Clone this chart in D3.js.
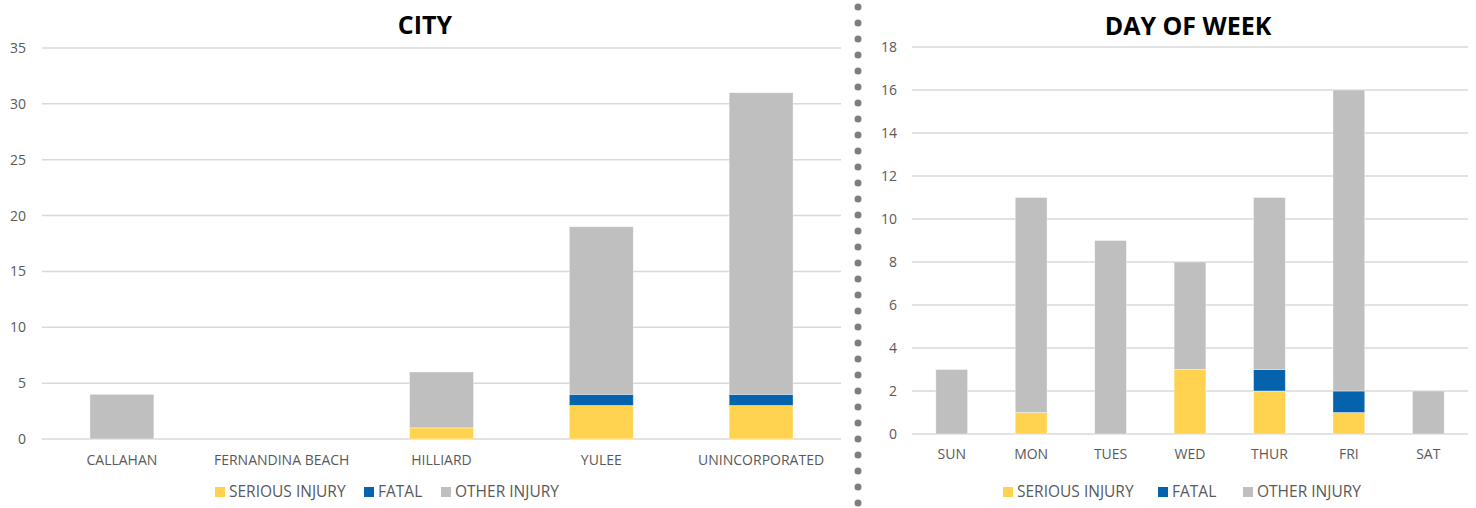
<!DOCTYPE html>
<html><head><meta charset="utf-8">
<script src="https://cdn.jsdelivr.net/npm/d3@7"></script>
<style>body{margin:0;background:#fff}svg{display:block}text{font-family:"Open Sans",sans-serif}</style>
</head><body><svg id="c" width="1476" height="508"></svg>
<script>
const seriesNames = ["SERIOUS INJURY","FATAL","OTHER INJURY"];
const seriesColors = ["#FFD34F","#0563AD","#BFBFBF"];

const cityCategories = ["CALLAHAN","FERNANDINA BEACH","HILLIARD","YULEE","UNINCORPORATED"];
const citySerious = [0,0,1,3,3];
const cityFatal = [0,0,0,1,1];
const cityOther = [4,0,5,15,27];
const cityTicks = [0,5,10,15,20,25,30,35];

const dayCategories = ["SUN","MON","TUES","WED","THUR","FRI","SAT"];
const daySerious = [0,1,0,3,2,1,0];
const dayFatal = [0,0,0,0,1,1,0];
const dayOther = [3,10,9,5,8,14,2];
const dayTicks = [0,2,4,6,8,10,12,14,16,18];

const svg = d3.select("#c");

function drawChart(cfg){
  const g = svg.append("g");
  const x = d3.scaleBand().domain(cfg.cats).range([cfg.x0,cfg.x1]).paddingInner(0.6).paddingOuter(0.3);
  const y = d3.scaleLinear().domain([0,d3.max(cfg.ticks)]).range([cfg.y0,cfg.y1]);
  g.selectAll("line.grid").data(cfg.ticks).join("line")
    .attr("x1",cfg.x0).attr("x2",cfg.x1)
    .attr("y1",d=>y(d)).attr("y2",d=>y(d))
    .attr("stroke","#D9D9D9").attr("stroke-width",1.5);
  const yAxis = d3.axisLeft(y).tickValues(cfg.ticks).tickSize(0).tickPadding(0);
  const ya = g.append("g").attr("transform",`translate(${cfg.ylabX},0)`).call(yAxis);
  ya.select(".domain").remove();
  ya.selectAll("text").attr("fill","#595959").style("font-size","14px").style("font-family","'Open Sans',sans-serif");
  const rows = cfg.cats.map((c,i)=>({cat:c, s0:cfg.s[0][i], s1:cfg.s[1][i], s2:cfg.s[2][i]}));
  const stack = d3.stack().keys(["s0","s1","s2"])(rows);
  stack.forEach((layer,li)=>{
    g.selectAll(null).data(layer.filter(d=>d[1]-d[0]>0)).join("rect")
      .attr("x",d=>x(d.data.cat)).attr("width",x.bandwidth())
      .attr("y",d=>y(d[1])).attr("height",d=>y(d[0])-y(d[1]))
      .attr("fill",seriesColors[li])
      .attr("stroke","#ffffff").attr("stroke-opacity",0.5).attr("stroke-width",0.75);
  });
  const xAxis = d3.axisBottom(x).tickSize(0).tickPadding(0);
  const xa = g.append("g").attr("transform",`translate(0,${cfg.xlabY})`).call(xAxis);
  xa.select(".domain").remove();
  xa.selectAll("text").attr("fill","#595959").style("font-size","14px").style("font-family","'Open Sans',sans-serif").attr("dy","0.32em");
  g.append("text").attr("x",cfg.titleX).attr("y",cfg.titleY).attr("text-anchor","middle")
    .attr("fill","#000").style("font-size","25px").style("font-weight","bold").text(cfg.title);
  const lg = g.append("g");
  seriesNames.forEach((n,i)=>{
    lg.append("rect").attr("x",cfg.legX[i]).attr("y",cfg.legY-5).attr("width",10).attr("height",10).attr("fill",seriesColors[i]);
    lg.append("text").attr("x",cfg.legX[i]+14).attr("y",cfg.legY).attr("dy","0.35em")
      .attr("fill","#595959").style("font-size","15.5px").text(n);
  });
}

drawChart({cats:cityCategories, s:[citySerious,cityFatal,cityOther], ticks:cityTicks,
  x0:42,x1:841,y0:439,y1:48,ylabX:26,xlabY:461,title:"CITY",titleX:425,titleY:34,
  legX:[215,364,441],legY:492});
drawChart({cats:dayCategories, s:[daySerious,dayFatal,dayOther], ticks:dayTicks,
  x0:912,x1:1468,y0:434,y1:47,ylabX:897,xlabY:455,title:"DAY OF WEEK",titleX:1188,titleY:35,
  legX:[1003,1158,1243],legY:492});

const dots = d3.range(7,508,16);
svg.selectAll("circle.sep").data(dots).join("circle")
  .attr("cx",858).attr("cy",d=>d).attr("r",3.5).attr("fill","#7F7F7F");
</script></body></html>
